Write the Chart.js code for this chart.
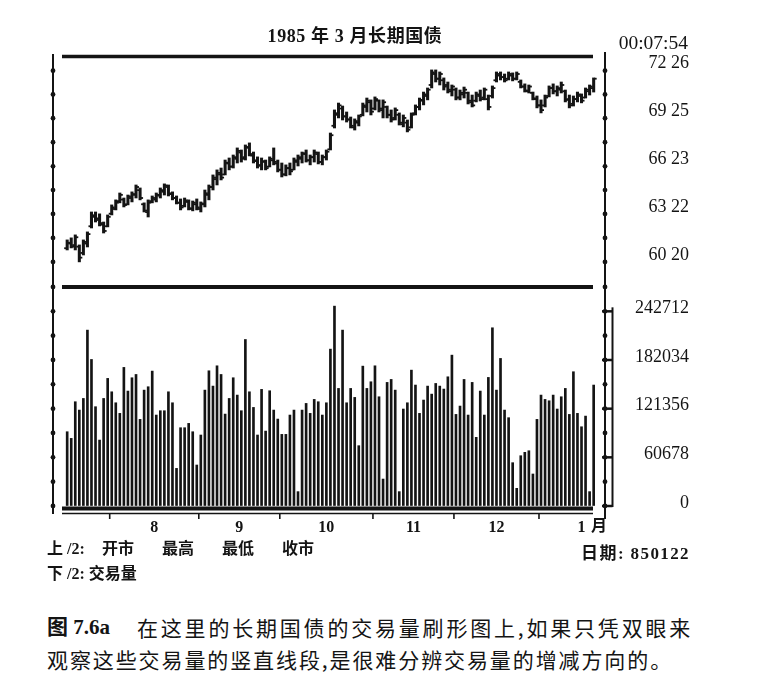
<!DOCTYPE html>
<html>
<head>
<meta charset="utf-8">
<script src="https://cdn.jsdelivr.net/npm/chart.js@4.4.1/dist/chart.umd.min.js"></script>
<style>
  html, body { margin: 0; padding: 0; background: #fff; }
  body { width: 763px; height: 690px; position: relative; overflow: hidden; color: #141414;
         font-family: "Liberation Serif", "Noto Sans CJK SC", serif; }
  .t { position: absolute; white-space: nowrap; line-height: 1; }
  .b { font-weight: bold; font-size: 16px; }
  #priceBox { position: absolute; left: 0; top: 0; width: 763px; height: 300px; }
  #volBox { position: absolute; left: 0; top: 277px; width: 763px; height: 270px; }
</style>
</head>
<body>
<div id="priceBox"><canvas id="price"></canvas></div>
<div id="volBox"><canvas id="volume"></canvas></div>

<div class="t" style="left:235px; top:27px; width:240px; text-align:center; font-weight:bold; font-size:18px; letter-spacing:0.6px;">1985 年 3 月长期国债</div>
<div class="t" style="right:75px; top:33px; font-size:19.5px;">00:07:54</div>
<div class="t b" style="left:591px; top:518px;">月</div>

<div class="t b" style="left:47px; top:541px;">上 /2:</div>
<div class="t b" style="left:102px; top:541px;">开市</div>
<div class="t b" style="left:162px; top:541px;">最高</div>
<div class="t b" style="left:222px; top:541px;">最低</div>
<div class="t b" style="left:282px; top:541px;">收市</div>
<div class="t b" style="left:47px; top:566px;">下 /2: 交易量</div>
<div class="t b" style="right:73px; top:545px; font-size:17px; letter-spacing:1.4px;">日期: 850122</div>

<div class="t" style="left:47px; top:617px; font-size:21px; font-weight:bold;">图 7.6a</div>
<div class="t" style="left:137px; top:617px; font-size:21px; letter-spacing:2.8px; font-family:'Noto Sans CJK SC';">在这里的长期国债的交易量刷形图上,如果只凭双眼来</div>
<div class="t" style="left:47px; top:649px; font-size:21px; letter-spacing:1.9px; font-family:'Noto Sans CJK SC';">观察这些交易量的竖直线段,是很难分辨交易量的增减方向的。</div>

<script>
// 交易日数 (7月 .. 1月)
const tradingDays = [11, 22, 20, 23, 20, 21, 14];
const monthNames = ['', '8', '9', '10', '11', '12', '1'];
const fullMonthDays = 21; // 1月只画到22日, 标签按整月居中

// 价格 (点), 上 /2: 开市 最高 最低 收市
const openP = [
  61.50, 61.80, 61.70, 61.60, 61.20, 61.80, 62.90, 63.50, 63.40, 63.00,
  62.90, 63.70, 64.00, 64.50, 64.60, 64.30, 64.70, 64.90, 65.20, 64.30,
  63.80, 64.50, 64.60, 64.85, 65.10, 65.40, 65.00, 64.70, 64.40, 64.20,
  64.45, 64.00, 64.30, 64.00, 64.30, 64.90, 65.40, 65.90, 66.20, 66.20,
  66.90, 66.70, 67.20, 67.60, 67.30, 67.90, 67.40, 67.10, 66.80, 67.00,
  66.70, 67.10, 66.90, 66.50, 66.20, 66.60, 66.50, 67.00, 67.20, 67.50,
  67.10, 67.30, 67.50, 67.00, 67.30, 67.80, 69.30, 70.00, 70.40, 69.90,
  69.70, 69.20, 69.50, 70.00, 70.50, 70.80, 70.40, 70.90, 70.30, 70.50,
  70.00, 69.80, 70.00, 69.40, 69.50, 69.20, 70.10, 70.50, 70.90, 71.20,
  71.90, 72.60, 72.30, 72.20, 71.90, 71.50, 71.60, 71.10, 71.30, 71.40,
  70.80, 70.90, 71.20, 71.10, 71.00, 71.20, 72.20, 72.50, 72.40, 72.30,
  72.50, 72.30, 72.10, 71.80, 71.50, 71.40, 71.00, 70.60, 70.60, 71.20,
  71.70, 71.50, 71.60, 71.50, 71.00, 70.70, 71.00, 71.20, 71.10, 71.50,
  71.70
];
const highP = [
  62.03, 62.16, 62.35, 61.71, 62.03, 62.54, 63.81, 63.81, 63.69, 63.17,
  63.62, 64.26, 64.58, 65.02, 64.70, 64.89, 65.09, 65.53, 65.34, 64.39,
  64.58, 64.83, 65.02, 65.34, 65.60, 65.53, 65.09, 64.83, 64.64, 64.70,
  64.58, 64.51, 64.64, 64.45, 65.21, 65.53, 66.17, 66.49, 66.61, 67.12,
  67.25, 67.44, 67.89, 67.76, 68.08, 68.21, 67.63, 67.32, 67.25, 67.12,
  67.32, 67.89, 67.12, 66.93, 66.81, 66.93, 67.25, 67.44, 67.63, 67.76,
  67.44, 67.76, 67.63, 67.44, 67.76, 68.84, 70.31, 70.75, 70.56, 70.18,
  69.86, 69.74, 69.99, 70.75, 71.07, 70.95, 71.14, 70.95, 70.95, 70.56,
  70.31, 70.44, 70.12, 69.99, 69.67, 70.12, 70.63, 71.07, 71.45, 71.71,
  72.86, 72.86, 72.73, 72.35, 72.09, 71.90, 71.71, 71.58, 71.77, 71.45,
  71.26, 71.45, 71.58, 71.71, 71.26, 71.84, 72.73, 72.73, 72.60, 72.73,
  72.67, 72.73, 72.22, 71.97, 71.90, 71.45, 71.20, 70.95, 71.26, 71.84,
  71.97, 71.84, 72.09, 71.58, 71.26, 71.20, 71.45, 71.33, 71.71, 71.90,
  72.35
];
const lowP = [
  61.39, 61.52, 61.39, 60.63, 61.07, 61.58, 62.79, 63.17, 62.92, 62.47,
  62.86, 63.62, 63.94, 64.39, 64.13, 64.26, 64.45, 64.70, 64.58, 63.81,
  63.49, 64.39, 64.45, 64.70, 64.89, 64.83, 64.58, 64.32, 63.94, 64.13,
  63.94, 63.88, 63.94, 63.81, 64.13, 64.58, 65.21, 65.53, 65.85, 66.17,
  66.49, 66.61, 66.93, 66.99, 67.12, 67.38, 66.93, 66.61, 66.49, 66.49,
  66.68, 66.81, 66.36, 66.04, 66.11, 66.17, 66.49, 66.74, 66.93, 66.99,
  66.81, 66.99, 66.87, 66.81, 67.12, 67.76, 69.16, 69.80, 69.67, 69.54,
  69.16, 69.03, 69.29, 69.93, 70.18, 69.99, 70.31, 70.18, 69.80, 69.80,
  69.54, 69.67, 69.35, 69.23, 68.91, 69.16, 69.99, 70.31, 70.63, 70.95,
  71.71, 72.09, 71.90, 71.58, 71.39, 71.20, 70.95, 70.95, 71.07, 70.69,
  70.50, 70.82, 70.88, 70.95, 70.31, 71.07, 72.09, 72.22, 72.09, 72.22,
  72.16, 72.22, 71.71, 71.45, 71.39, 70.95, 70.44, 70.12, 70.50, 71.14,
  71.33, 71.20, 71.39, 70.82, 70.44, 70.56, 70.82, 70.76, 71.07, 71.26,
  71.45
];
const closeP = [
  61.85, 61.60, 62.20, 60.90, 61.90, 62.40, 63.60, 63.30, 63.10, 62.60,
  63.50, 64.10, 64.40, 64.90, 64.25, 64.80, 64.95, 65.40, 64.70, 63.90,
  64.40, 64.70, 64.90, 65.20, 65.50, 64.95, 64.70, 64.40, 64.10, 64.55,
  64.05, 64.40, 64.10, 64.35, 65.00, 65.40, 66.00, 66.30, 66.00, 66.95,
  66.70, 67.30, 67.70, 67.20, 67.95, 67.50, 67.05, 66.75, 67.05, 66.60,
  67.20, 67.00, 66.50, 66.20, 66.60, 66.40, 67.10, 67.30, 67.55, 67.10,
  67.30, 67.60, 67.00, 67.30, 67.65, 68.70, 70.10, 70.60, 69.90, 69.70,
  69.30, 69.60, 69.90, 70.60, 70.90, 70.20, 71.00, 70.40, 70.80, 70.00,
  69.70, 70.30, 69.50, 69.80, 69.05, 70.00, 70.50, 70.95, 71.30, 71.60,
  72.70, 72.30, 72.60, 71.80, 71.60, 71.80, 71.10, 71.40, 71.60, 70.90,
  70.60, 71.30, 71.00, 71.60, 70.50, 71.70, 72.60, 72.40, 72.20, 72.60,
  72.30, 72.60, 71.80, 71.55, 71.80, 71.05, 70.60, 70.30, 71.10, 71.70,
  71.50, 71.70, 71.90, 70.95, 70.60, 71.00, 71.30, 70.90, 71.60, 71.80,
  72.30
];

// 下 /2: 交易量
const volume = [
  92600, 84300, 130000, 119600, 134100, 219300, 182700, 123800, 82200, 134100,
  159100, 142400, 128700, 115500, 172800, 143300, 159900, 164000, 108000, 144500,
  148700, 168200, 113400, 118800, 118800, 142400, 128700, 46900, 97600, 97600,
  103000, 92600, 51100, 88500, 144500, 168600, 149500, 174800, 164000, 114600,
  134100, 159900, 138300, 118800, 207600, 142400, 122900, 88500, 145400, 93400,
  143700, 119600, 108400, 89300, 89300, 113400, 119600, 17900, 119600, 127900,
  115500, 132900, 130000, 113400, 128700, 195600, 249200, 146600, 219300, 128700,
  146600, 135400, 75200, 174400, 146600, 154900, 174800, 136200, 33600, 154100,
  157800, 144500, 17900, 120900, 128700, 169400, 150800, 115500, 132100, 149500,
  139500, 152800, 149500, 145800, 161100, 188100, 114200, 124600, 157800, 113400,
  154100, 85600, 143300, 113400, 160300, 222200, 144500, 184000, 119600, 110100,
  54000, 22000, 62700, 66900, 68900, 39900, 108000, 138300, 132900, 131200,
  138300, 120900, 136200, 146600, 114200, 167400, 115500, 98800, 112100, 17900,
  150800
];

// 右边刻度
const priceTicks = [60.625, 63.6875, 66.71875, 69.78125, 72.8125];
const volumeTicks = [0, 60678, 121356, 182034, 242712];

const ink = '#141414';
const tickFont = { family: 'Liberation Serif', size: 18 };

// month starts / label centres in bar-index units
const monthStarts = [];
tradingDays.reduce((s, d) => { monthStarts.push(s); return s + d; }, 0);
const monthCentres = monthStarts.map((s, k) =>
  k === tradingDays.length - 1 ? s + (fullMonthDays - 1) / 2 : s + (tradingDays[k] - 1) / 2);
const labelTicks = monthCentres.map((c, k) => ({ value: c, label: monthNames[k] })).filter(t => t.label);

// major ticks plus the half steps between them
function withHalves(major, extraTop) {
  const out = [];
  major.forEach((v, k) => {
    out.push(v);
    if (k < major.length - 1) out.push((v + major[k + 1]) / 2);
  });
  if (extraTop) out.push(major[major.length - 1] + (major[1] - major[0]) / 2);
  return out;
}
const priceAll = withHalves(priceTicks, false);
const volumeAll = withHalves(volumeTicks, true);

function fmt32(v) {
  const whole = Math.floor(v);
  return whole + ' ' + Math.round((v - whole) * 32);
}

const framePlugin = {
  id: 'frame',
  afterDraw(chart, args, opts) {
    const { ctx, chartArea: a, scales } = chart;
    const x0 = a.left + 9, x1 = a.right - 12;
    ctx.save();
    ctx.strokeStyle = ink;
    ctx.fillStyle = ink;
    const line = (xa, ya, xb, yb, w) => {
      ctx.lineWidth = w;
      ctx.beginPath(); ctx.moveTo(xa, ya); ctx.lineTo(xb, yb); ctx.stroke();
    };
    if (opts.topRule) {
      line(x0, a.top + 1.5, x1, a.top + 1.5, 3.5);
      line(scales.y.left, a.top, scales.y.left, a.top - 3, 2);
    }
    if (opts.bottomRule) line(x0, a.bottom, x1, a.bottom, 4);
    if (opts.baseRules) {
      const y0 = scales.y.getPixelForValue(0);
      line(x0, y0 + 2.5, x1, y0 + 2.5, 4);
      line(x0, y0 + 7.5, x1, y0 + 7.5, 1.5);
      monthStarts.slice(1).forEach(s => {
        const px = scales.x.getPixelForValue(s - 0.5);
        line(px, y0 + 7.5, px, y0 + 13, 1.6);
      });
      line(scales.yl.right, a.bottom, scales.yl.right, a.bottom + 8, 2);
      line(scales.y.left, a.bottom, scales.y.left, a.bottom + 13, 2);
    }
    [[scales.yl, scales.yl.right], [scales.y, scales.y.left]].forEach(([s, px]) => {
      s.ticks.forEach(t => {
        ctx.beginPath();
        ctx.arc(px, s.getPixelForValue(t.value), 2.4, 0, Math.PI * 2);
        ctx.fill();
      });
    });
    if (opts.bracket) {
      const s = scales.y, bx = s.left + 7.5;
      const top = s.getPixelForValue(volumeTicks[volumeTicks.length - 1]) - 4;
      line(bx, top, bx, s.getPixelForValue(0) + 1, 2);
      volumeTicks.forEach(v => {
        const py = s.getPixelForValue(v);
        line(s.left - 3, py, bx, py, 2.5);
      });
    }
    ctx.restore();
  }
};

const xRange = { type: 'linear', min: -3.5, max: 132.8, offset: false, bounds: 'data' };

function sideAxes(min, max, ticksAll, labelOf, labelOffset) {
  const noPad = s => { s.paddingTop = 0; s.paddingBottom = 0; };
  return {
    yl: {
      type: 'linear', position: 'left', min, max, bounds: 'data',
      afterFit: s => { s.width = 53; noPad(s); },
      afterBuildTicks: s => { s.ticks = ticksAll.map(v => ({ value: v })); },
      grid: { drawOnChartArea: false, drawTicks: false },
      border: { color: ink, width: 2 },
      ticks: { display: false }
    },
    y: {
      type: 'linear', position: 'right', min, max, bounds: 'data',
      afterFit: s => { s.width = 84; noPad(s); },
      afterBuildTicks: s => { s.ticks = ticksAll.map(v => ({ value: v })); },
      grid: { drawOnChartArea: false, drawTicks: false },
      border: { color: ink, width: 2 },
      ticks: {
        autoSkip: false, crossAlign: 'far', padding: 0, labelOffset,
        color: ink, font: tickFont, callback: labelOf
      }
    }
  };
}

const bars = highP.map((h, i) => ({ x: i, y: [lowP[i], h] }));
const opens = openP.map((v, i) => ({ x: i - 0.42, y: v }));
const closes = closeP.map((v, i) => ({ x: i + 0.42, y: v }));

new Chart(document.getElementById('price'), {
  type: 'bar',
  data: {
    datasets: [
      { data: bars, backgroundColor: ink, borderWidth: 0, barThickness: 2.4, xAxisID: 'x', yAxisID: 'y' },
      { type: 'scatter', data: opens, pointStyle: 'line', pointRadius: 1.3, pointBorderWidth: 1.8,
        borderColor: ink, xAxisID: 'x', yAxisID: 'y' },
      { type: 'scatter', data: closes, pointStyle: 'line', pointRadius: 1.3, pointBorderWidth: 1.8,
        borderColor: ink, xAxisID: 'x', yAxisID: 'y' }
    ]
  },
  options: {
    responsive: true, maintainAspectRatio: false, animation: false, events: [],
    layout: { padding: { top: 55, bottom: 13, left: 0, right: 74 } },
    plugins: { legend: { display: false }, tooltip: { enabled: false },
               frame: { topRule: true, bottomRule: true } },
    scales: Object.assign({ x: Object.assign({}, xRange, { display: false }) },
      sideAxes(59.03, 73.81, priceAll, v => priceTicks.includes(v) ? fmt32(v) : '', -7))
  },
  plugins: [framePlugin]
});

new Chart(document.getElementById('volume'), {
  type: 'bar',
  data: {
    datasets: [
      { data: volume.map((v, i) => ({ x: i, y: v })), backgroundColor: ink, borderWidth: 0,
        barThickness: 2, xAxisID: 'x', yAxisID: 'y' }
    ]
  },
  options: {
    responsive: true, maintainAspectRatio: false, animation: false, events: [],
    layout: { padding: { top: 10, bottom: 10, left: 0, right: 74 } },
    plugins: { legend: { display: false }, tooltip: { enabled: false },
               frame: { baseRules: true, bracket: true } },
    scales: Object.assign({
      x: Object.assign({}, xRange, {
        position: 'bottom',
        afterFit: s => { s.height = 31; },
        afterBuildTicks: s => { s.ticks = labelTicks.map(t => ({ value: t.value })); },
        grid: { display: false, drawTicks: false },
        border: { display: false },
        ticks: { autoSkip: false, maxRotation: 0, padding: 12, color: ink,
                 font: { family: 'Liberation Serif', size: 16, weight: 'bold' },
                 callback: (v, k) => labelTicks[k] ? labelTicks[k].label : '' }
      })
    }, sideAxes(0, 273051, volumeAll, v => volumeTicks.includes(v) ? String(v) : '', -3))
  },
  plugins: [framePlugin]
});
</script>
</body>
</html>
